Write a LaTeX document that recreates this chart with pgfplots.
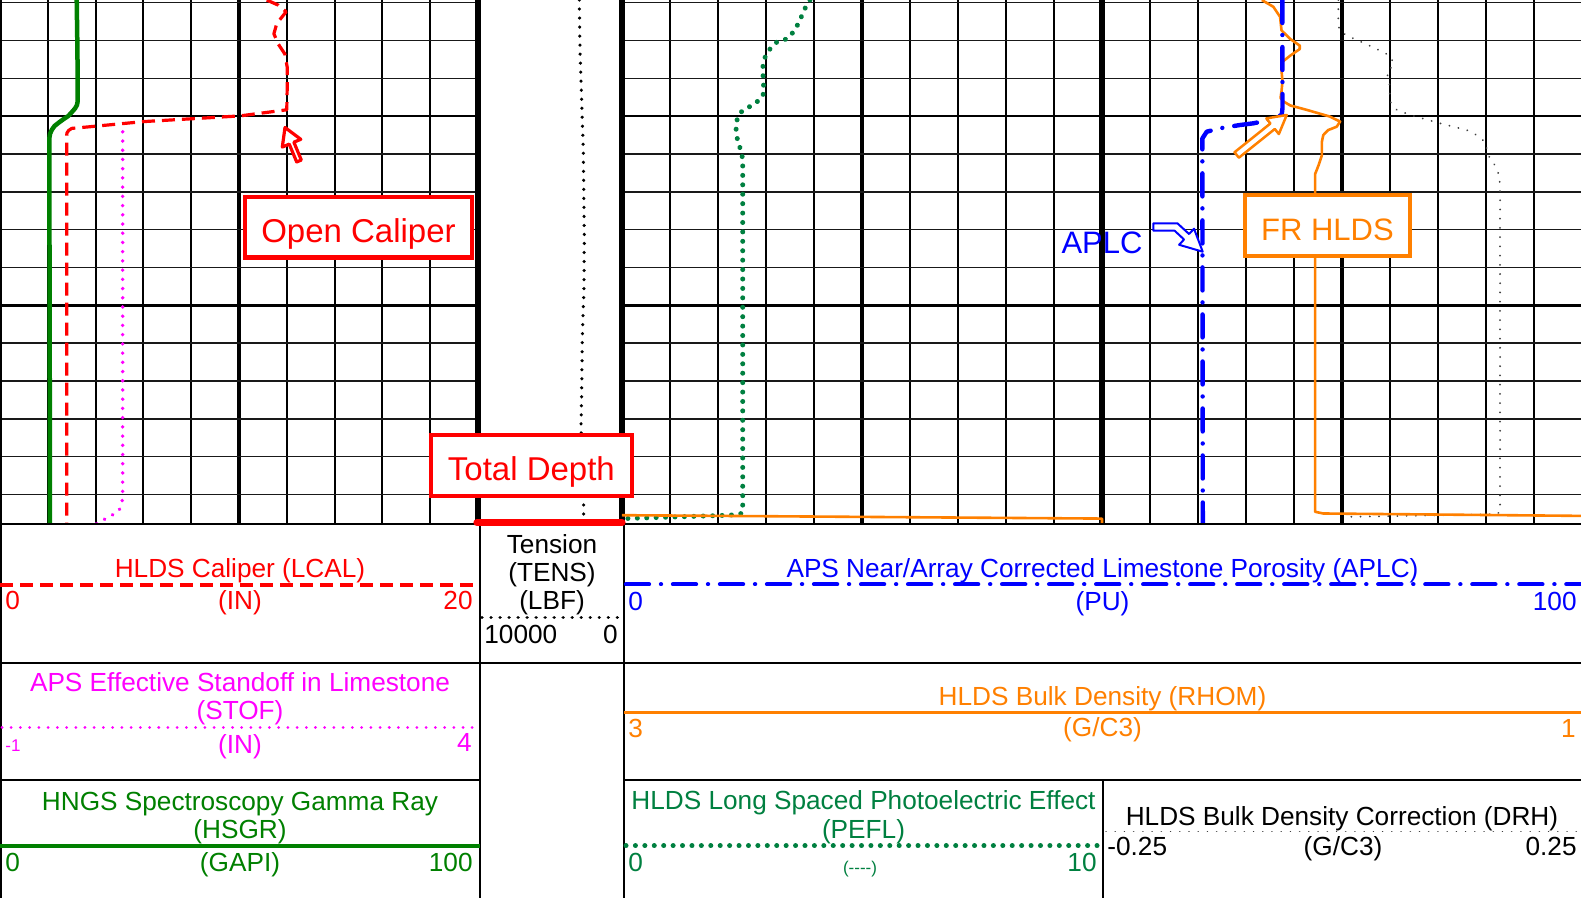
\documentclass[border=0pt]{standalone}
\usepackage{pgfplots}
\pgfplotsset{compat=1.18}
\usepackage{fontspec}
\setmainfont{Liberation Sans}
\definecolor{cRed}{RGB}{255,0,0}
\definecolor{cMag}{RGB}{255,0,255}
\definecolor{cGreen}{RGB}{0,128,0}
\definecolor{cPef}{RGB}{0,128,64}
\definecolor{cBlue}{RGB}{0,0,255}
\definecolor{cOrange}{RGB}{255,128,0}
\newcommand{\hf}{\fontsize{13.1}{15}\selectfont}
\newcommand{\smf}{\fontsize{8.5}{10}\selectfont}
\newcommand{\af}{\fontsize{16.5}{19}\selectfont}
\newcommand{\bfnt}{\fontsize{15.5}{18}\selectfont}
\pgfplotsset{
  track/.style={scale only axis, height=262.25pt, ymin=9993.857, ymax=10021.587, y dir=reverse, anchor=north west},
  dataax/.style={track, hide axis, clip=true},
  gridax/.style={track, axis line style={draw=none}, tick style={draw=none}, major tick length=0pt, minor tick length=0pt,
     scaled ticks=false, xticklabel={\relax}, yticklabel={\relax}},
}
\tikzset{
  lcal/.style={cRed, line width=1.6pt, dash pattern=on 6.5pt off 3.5pt, line join=round},
  stof/.style={cMag, line width=1.9pt, line cap=round, dash pattern=on 0.01pt off 4.6pt},
  hsgr/.style={cGreen, line width=2.25pt, line join=round},
  tens/.style={black, line width=1.75pt, line cap=round, dash pattern=on 0.01pt off 4.5pt},
  aplc/.style={cBlue, line width=2.2pt, line cap=round, line join=round, dash pattern=on 11.5pt off 6pt on 0.01pt off 6pt},
  rhom/.style={cOrange, line width=1.3pt, line join=round},
  pefl/.style={cPef, line width=2.5pt, line cap=round, dash pattern=on 0.01pt off 4.7pt},
  drh/.style={black!75, line width=1pt, line cap=round, dash pattern=on 0.01pt off 4.6pt},
  hd/.style={inner sep=0pt, font=\hf},
}
\begin{document}
\begin{tikzpicture}
\path[use as bounding box] (0pt,0pt) rectangle (790.5pt,-449pt);
\fill[white] (0pt,0pt) rectangle (790.5pt,-449pt);

% ---------- grids ----------
\begin{axis}[gridax, at={(0pt,0pt)}, width=239pt, xmin=0, xmax=20,
  xtick={10}, minor xtick={2,4,6,8,12,14,16,18}, ytick=\empty, grid=both,
  minor grid style={black, line width=1pt}, major grid style={black, line width=2pt}]
\addplot[draw=none] coordinates {(0,10000)};
\end{axis}
\begin{axis}[gridax, at={(0pt,0pt)}, width=239pt, xmin=0, xmax=20,
  xtick=\empty, ytick={10000,10010}, minor ytick={9994,9996,...,10020}, grid=both,
  minor grid style={black!90, line width=0.75pt}, major grid style={black, line width=1.3pt}]
\addplot[draw=none] coordinates {(0,10000)};
\end{axis}
\begin{axis}[gridax, at={(311pt,0pt)}, width=480pt, xmin=0, xmax=100,
  xtick={25,50,75}, minor xtick={5,10,15,20,30,35,40,45,55,60,65,70,80,85,90,95}, ytick=\empty, grid=both,
  minor grid style={black, line width=1pt}, major grid style={black, line width=2pt}]
\addplot[draw=none] coordinates {(0,10000)};
\end{axis}
\begin{axis}[gridax, at={(311pt,0pt)}, width=480pt, xmin=0, xmax=100,
  xtick=\empty, ytick={10000,10010}, minor ytick={9994,9996,...,10020}, grid=both,
  minor grid style={black!90, line width=0.75pt}, major grid style={black, line width=1.3pt}]
\addplot[draw=none] coordinates {(0,10000)};
\end{axis}

\begin{scope}[x=0.5pt,y=-0.5pt]
\draw[line width=3pt] (478,0)--(478,524.5);
\draw[line width=3pt] (622,0)--(622,524.5);
\draw[line width=3pt] (1102,0)--(1102,524.5);
\draw[line width=1pt] (1,0)--(1,524.5);
\end{scope}

% ---------- Track 1 data ----------
% HSGR (GAPI)
\begin{axis}[dataax, at={(0pt,0pt)}, width=239pt, xmin=0, xmax=100]
\addplot[hsgr] coordinates {
(16.05,9993.857) (16.17,9995.998) (16.26,9998.087) (16.26,9999.197) (16.11,9999.408)
(15.69,9999.593) (14.96,9999.805) (14.29,9999.990) (13.18,10000.175) (12.20,10000.360)
(11.40,10000.519) (10.82,10000.730) (10.46,10000.942) (10.33,10001.153) (10.31,10001.365)
(10.38,10009.718) (10.46,10021.587)};
\end{axis}
% LCAL (IN)
\begin{axis}[dataax, at={(0pt,0pt)}, width=239pt, xmin=0, xmax=20]
\addplot[lcal] coordinates {
(11.16,9993.857) (11.64,9994.127) (11.97,9994.481) (11.58,9995.105) (11.46,9995.644)
(11.64,9996.178) (11.92,9996.717) (12.02,9997.431) (12.02,9998.325) (12.00,9999.572)
(12.00,9999.662) (10.04,9999.985) (6.00,10000.286) (3.77,10000.556) (3.00,10000.645)
(2.87,10000.757) (2.80,10000.889) (2.79,10001.047) (2.79,10021.587)};
\end{axis}
% STOF (IN)
\begin{axis}[dataax, at={(0pt,0pt)}, width=239pt, xmin=-1, xmax=4]
\addplot[stof] coordinates {
(0.283,10000.825) (0.283,10020.111) (0.273,10020.556) (0.237,10020.915)
(0.151,10021.148) (0.011,10021.539) (0.000,10021.587)};
\end{axis}

% ---------- Track 2 data ----------
\begin{axis}[dataax, at={(239pt,0pt)}, width=72pt, xmin=0, xmax=10000, x dir=reverse]
\addplot[tens] coordinates {
(2965,9993.857) (2917,9996.538) (2798,9999.218) (2687,10001.893) (2618,10006.360)
(2639,10009.030) (2757,10011.716) (2798,10014.396) (2847,10016.537) (2660,10020.651)
(2660,10021.587)};
\end{axis}

% ---------- Track 3 data ----------
% DRH (right half)
\begin{axis}[dataax, at={(551pt,0pt)}, width=240pt, xmin=-0.25, xmax=0.25]
\addplot[drh] coordinates {
(-0.0039,9993.857) (-0.0039,9994.930) (-0.0028,9995.464) (0.0049,9995.734) (0.0326,9996.358)
(0.0500,9996.802) (0.0542,9997.251) (0.0466,9997.695) (0.0493,9998.145) (0.0500,9999.218)
(0.0570,9999.662) (0.0708,9999.932) (0.1021,10000.376) (0.1299,10000.735) (0.1403,10000.999)
(0.1490,10001.359) (0.1524,10002.073) (0.1594,10002.607) (0.1639,10003.146) (0.1646,10003.860)
(0.1646,10020.915) (0.1611,10021.042) (0.0049,10021.185)};
\end{axis}
% PEFL (left half)
\begin{axis}[dataax, at={(311pt,0pt)}, width=240pt, xmin=0, xmax=10]
\addplot[pefl] coordinates {
(3.917,9993.857) (3.813,9994.301) (3.673,9995.105) (3.569,9995.554) (3.431,9995.914)
(3.223,9996.088) (3.083,9996.448) (2.979,9996.892) (2.931,9997.431) (2.944,9998.145)
(2.958,9998.769) (2.875,9999.128) (2.667,9999.482) (2.494,9999.752) (2.402,10000.106)
(2.375,10000.645) (2.410,10001.359) (2.494,10001.893) (2.515,10002.432) (2.515,10020.651)
(2.494,10021.005) (2.250,10021.095) (1.140,10021.185) (0.027,10021.274)};
\end{axis}
% RHOM (G/C3), 3 -> 1
\begin{axis}[dataax, at={(311pt,0pt)}, width=480pt, xmin=1, xmax=3, x dir=reverse]
\addplot[rhom] coordinates {
(1.667,9993.857) (1.643,9994.217) (1.629,9994.751) (1.626,9995.464) (1.608,9995.914)
(1.588,9996.268) (1.588,9996.448) (1.608,9996.802) (1.626,9997.162) (1.626,9997.606)
(1.624,9998.145) (1.626,9998.679) (1.628,9999.038) (1.622,9999.218) (1.608,9999.430)
(1.574,9999.662) (1.525,10000.022) (1.504,10000.286) (1.511,10000.556) (1.529,10000.735)
(1.539,10000.999) (1.542,10001.359) (1.542,10002.073) (1.549,10002.607) (1.556,10003.056)
(1.556,10020.915) (1.539,10021.005) (1.000,10021.132)};
\end{axis}
% RHOM backup scale 1 -> -1
\begin{axis}[dataax, at={(311pt,0pt)}, width=480pt, xmin=-1, xmax=1, x dir=reverse]
\addplot[rhom] coordinates {(1.000,10021.095) (0.000,10021.274) (0.000,10021.587)};
\end{axis}
% APLC (PU)
\begin{axis}[dataax, at={(311pt,0pt)}, width=480pt, xmin=0, xmax=100]
\addplot[aplc] coordinates {
(68.78,9993.857) (68.80,9999.567) (68.72,9999.937) (67.16,10000.238) (65.76,10000.376)
(64.38,10000.466) (62.29,10000.640) (60.91,10000.820) (60.45,10001.179) (60.50,10021.587)};
\end{axis}

% ---------- annotations & header ----------
\begin{scope}[x=0.5pt,y=-0.5pt]
% Open Caliper
\draw[cRed, line width=1.6pt, line join=round, fill=white]
  (296.7,162.0)--(289.25,144.15)--(282.3,147.05)--(285,127.5)--(300.8,139.3)--(293.87,142.2)--(301.3,160.0)--cycle;
\draw[cRed, line width=2.25pt, fill=white] (245,196.8) rectangle (472,257.6);
\node[anchor=base, inner sep=0pt, font=\af, text=cRed] at (358.5,242.6) {Open Caliper};
% Total Depth
\draw[cRed, line width=2.25pt, fill=white] (430.8,434.8) rectangle (632,495.8);
\node[anchor=base, inner sep=0pt, font=\af, text=cRed] at (531.4,480.6) {Total Depth};
% APLC label and bent arrow
\node[anchor=base, inner sep=0pt, font=\bfnt, text=cBlue] at (1102,253.4) {APLC};
\draw[cBlue, line width=1pt, line join=round, fill=white]
  (1153.3,223.3)--(1177.4,223.3)--(1189.06,234.04)--(1194.0,228.7)--(1202.7,251.7)--(1179.1,244.8)--(1184.04,239.48)--(1174.6,230.7)--(1153.3,230.7)--cycle;
% FR HLDS
\draw[cOrange, line width=1.25pt, line join=round, fill=white]
  (1238.9,157.7)--(1274.8,128.98)--(1278.85,134.06)--(1286.7,115)--(1266.35,118.44)--(1270.4,123.52)--(1234.5,152.27)--cycle;
\draw[cOrange, line width=2pt, fill=white] (1244.5,195) rectangle (1410.3,256.3);
\node[anchor=base, inner sep=0pt, font=\bfnt, text=cOrange] at (1327.4,240.5) {FR HLDS};

% header frame
\draw[line width=1pt] (0,524.5)--(1582,524.5);
\draw[line width=1pt] (0,662.7)--(1582,662.7);
\draw[line width=1pt] (0,780)--(480,780) (624,780)--(1582,780);
\draw[line width=1pt] (480,524.5)--(480,898) (624,524.5)--(624,898) (1103,780)--(1103,898);
\draw[line width=1pt] (0.5,524.5)--(0.5,898);
% total depth marker
\draw[cRed, line width=3.6pt, line cap=round] (477,522.7)--(622,522.7);

% Track 1 header
\node[hd, anchor=base, text=cRed] at (240,577.3) {HLDS Caliper (LCAL)};
\draw[lcal] (0,585)--(480,585);
\node[hd, anchor=base west, text=cRed] at (5,610) {0};
\node[hd, anchor=base, text=cRed] at (240,610) {(IN)};
\node[hd, anchor=base east, text=cRed] at (473,610) {20};

\node[hd, anchor=base, text=cMag] at (240,691.7) {APS Effective Standoff in Limestone};
\node[hd, anchor=base, text=cMag] at (240,719.3) {(STOF)};
\draw[stof, line width=1.5pt] (2,727)--(480,727);
\node[inner sep=0pt, font=\smf, anchor=base west, text=cMag] at (5,751.7) {-1};
\node[hd, anchor=base, text=cMag] at (240,753.3) {(IN)};
\node[hd, anchor=base east, text=cMag] at (472,751.7) {4};

\node[hd, anchor=base, text=cGreen] at (240,810) {HNGS Spectroscopy Gamma Ray};
\node[hd, anchor=base, text=cGreen] at (240,838.3) {(HSGR)};
\draw[hsgr, line width=2pt] (0,845.7)--(480,845.7);
\node[hd, anchor=base west, text=cGreen] at (5,871.7) {0};
\node[hd, anchor=base, text=cGreen] at (240,871.7) {(GAPI)};
\node[hd, anchor=base east, text=cGreen] at (473,871.7) {100};

% Tension header
\node[hd, anchor=base] at (552,554) {Tension};
\node[hd, anchor=base] at (552,581.7) {(TENS)};
\node[hd, anchor=base] at (552,610) {(LBF)};
\draw[tens] (482,617.7)--(622,617.7);
\node[hd, anchor=base west] at (484,644) {10000};
\node[hd, anchor=base east] at (618,644) {0};

% Track 3 headers
\node[hd, anchor=base, text=cBlue] at (1102.5,577.3) {APS Near/Array Corrected Limestone Porosity (APLC)};
\draw[aplc] (626,584.3)--(1582,584.3);
\node[hd, anchor=base west, text=cBlue] at (628,610.7) {0};
\node[hd, anchor=base, text=cBlue] at (1102.5,610.7) {(PU)};
\node[hd, anchor=base east, text=cBlue] at (1577,610.7) {100};

\node[hd, anchor=base, text=cOrange] at (1102.5,705.7) {HLDS Bulk Density (RHOM)};
\draw[rhom] (624,712.3)--(1582,712.3);
\node[hd, anchor=base west, text=cOrange] at (628,737.7) {3};
\node[hd, anchor=base, text=cOrange] at (1102.5,736.7) {(G/C3)};
\node[hd, anchor=base east, text=cOrange] at (1576,737.7) {1};

\node[hd, anchor=base, text=cPef] at (863.5,809.3) {HLDS Long Spaced Photoelectric Effect};
\node[hd, anchor=base, text=cPef] at (863.5,838.3) {(PEFL)};
\draw[pefl] (626,845.7)--(1101,845.7);
\node[hd, anchor=base west, text=cPef] at (628,871.7) {0};
\node[inner sep=0pt, font=\smf, anchor=base, text=cPef] at (860,873.3) {(-{}-{}-{}-)};
\node[hd, anchor=base east, text=cPef] at (1097,871.7) {10};

\node[hd, anchor=base] at (1342,825) {HLDS Bulk Density Correction (DRH)};
\draw[drh, line width=0.75pt] (1106,831.7)--(1582,831.7);
\node[hd, anchor=base west] at (1107,855) {-0.25};
\node[hd, anchor=base] at (1343,855) {(G/C3)};
\node[hd, anchor=base east] at (1577,855) {0.25};
\end{scope}
\end{tikzpicture}
\end{document}
